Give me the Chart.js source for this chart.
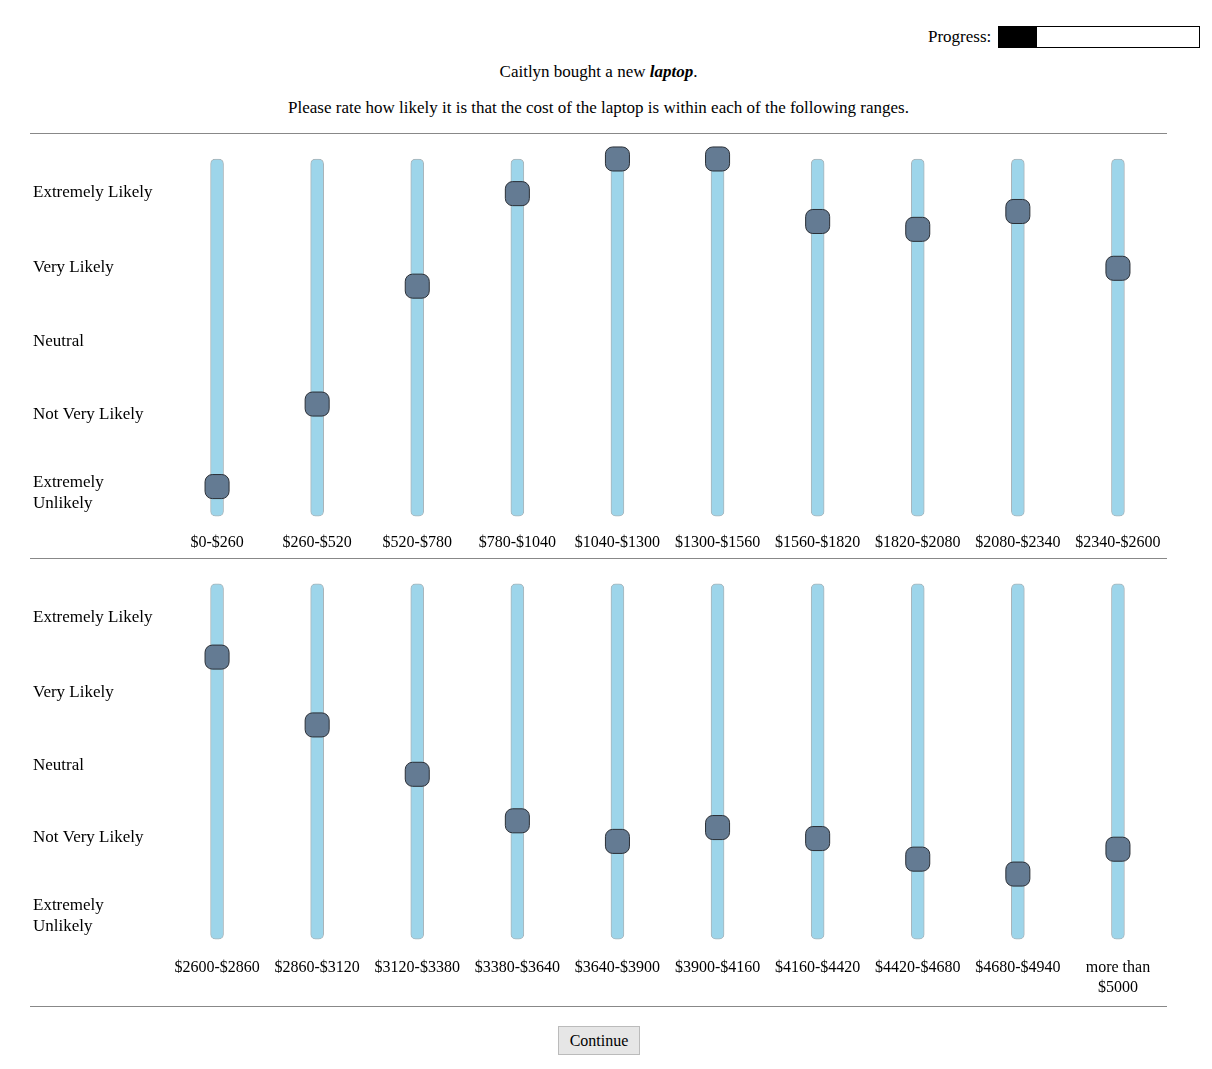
<!DOCTYPE html>
<html><head><meta charset="utf-8">
<script src="https://cdn.jsdelivr.net/npm/chart.js@4"></script>
<style>
body{margin:0;background:#fff;font-family:"Liberation Serif","DejaVu Serif",serif;font-size:17px;color:#000}
.abs{position:absolute}
.rule{position:absolute;left:30px;width:1137px;border-top:1px solid #888}
.box{position:absolute;left:30px;width:1153px}
</style></head><body>
<div class="abs" style="left:928px;top:27px">Progress:</div>
<div class="abs" style="left:998px;top:26px;width:200px;height:20px;border:1px solid #000"><div style="width:38px;height:20px;background:#000"></div></div>
<div class="abs" style="left:0;width:1197px;top:62px;text-align:center">Caitlyn bought a new <b><i>laptop</i></b>.</div>
<div class="abs" style="left:0;width:1197px;top:98px;text-align:center">Please rate how likely it is that the cost of the laptop is within each of the following ranges.</div>
<div class="rule" style="top:133px"></div>
<div class="box" style="top:135px;height:422px"><canvas id="c1"></canvas></div>
<div class="rule" style="top:558px"></div>
<div class="box" style="top:560px;height:445px"><canvas id="c2"></canvas></div>
<div class="rule" style="top:1006px"></div>
<div class="abs" style="left:558px;top:1026px;width:80px;height:27px;background:#e6e6e6;border:1px solid #bbb;text-align:center;line-height:27px;font-size:16px">Continue</div>
<script>
const ratingLabels = ["Extremely Likely","Very Likely","Neutral","Not Very Likely",["Extremely","Unlikely"]];
const ratingTicks = [90.5, 69.5, 49, 28.5, 6.5];
const ranges1 = ["$0-$260","$260-$520","$520-$780","$780-$1040","$1040-$1300","$1300-$1560","$1560-$1820","$1820-$2080","$2080-$2340","$2340-$2600"];
const values1 = [8.3, 31.4, 64.4, 90.3, 100, 100, 82.5, 80.3, 85.3, 69.4];
const ranges2 = ["$2600-$2860","$2860-$3120","$3120-$3380","$3380-$3640","$3640-$3900","$3900-$4160","$4160-$4420","$4420-$4680","$4680-$4940",["more than","$5000"]];
const values2 = [79.4, 60.3, 46.4, 33.3, 27.5, 31.4, 28.3, 22.5, 18.3, 25.3];
const font = {family:"Liberation Serif", size:16};

function make(id, labels, vals, tickPad){
  new Chart(document.getElementById(id), {
    data: {
      labels,
      datasets: [
        {type:"line", data: vals, showLine:false, pointStyle:"rectRounded", pointRadius:14, pointHoverRadius:14,
         backgroundColor:"#647b93", borderColor:"#2a2f36", borderWidth:1, clip:false},
        {type:"bar", data: labels.map(() => [0,100]), backgroundColor:"#9dd5ea", borderColor:"#a9b4b9",
         borderWidth:1, borderRadius:5, borderSkipped:false, barThickness:13}
      ]
    },
    options: {
      responsive:true, maintainAspectRatio:false, animation:false,
      layout:{padding:{top:4, bottom:0, left:3}},
      plugins:{legend:{display:false}, tooltip:{enabled:false}},
      scales:{
        x:{grid:{display:false}, border:{display:false}, ticks:{color:"#000", font, maxRotation:0, padding:tickPad}},
        y:{min:-1, max:101, grid:{display:false}, border:{display:false},
           afterFit: s => { s.width = 134; },
           afterBuildTicks: s => { s.ticks = ratingTicks.map(v => ({value:v})); },
           ticks:{color:"#000", font:{family:"Liberation Serif", size:17}, crossAlign:"far", padding:0,
             callback:(v, i) => ratingLabels[i]}}
      }
    }
  });
}
make("c1", ranges1, values1, 5);
make("c2", ranges2, values2, 8);
</script>
</body></html>
